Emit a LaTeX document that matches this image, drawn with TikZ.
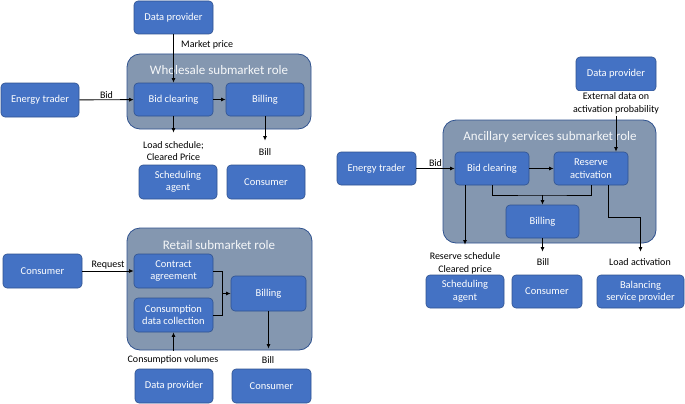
\documentclass[tikz,border=0pt]{standalone}
\usepackage{fontspec}
\setmainfont{Carlito}
\usetikzlibrary{arrows.meta}
\definecolor{boxfill}{HTML}{4472C4}
\definecolor{boxline}{HTML}{2F528F}
\definecolor{grpfill}{HTML}{8497B0}
\tikzset{
  box/.style={draw=boxline, line width=0.6pt, fill=boxfill, rounded corners=4pt,
    text=white, font=\fontsize{10.5}{12.5}\selectfont, align=center, inner sep=1pt},
  grp/.style={draw=boxline, line width=0.8pt, fill=grpfill, rounded corners=13pt},
  grptitle/.style={text=white!92!grpfill, font=\fontsize{13}{15}\selectfont},
  lbl/.style={font=\fontsize{10}{12.5}\selectfont, align=center, inner sep=1pt},
  arr/.style={line width=0.9pt, -{Latex[length=4.5pt,width=4pt]}},
  ln/.style={line width=0.9pt}
}
\begin{document}
\begin{tikzpicture}[x=1pt,y=-1pt]
\useasboundingbox (0,0) rectangle (685,404);
% ---------- containers ----------
\draw[grp] (127,54) rectangle (311,129);
\node[grptitle] (tW) at (219,70) {Wholesale submarket role};
\draw[grp] (443,120) rectangle (656,243);
\node[grptitle] (tA) at (550,137) {Ancillary services submarket role};
\draw[grp] (127,228) rectangle (312,350);
\node[grptitle] (tR) at (219,245) {Retail submarket role};
% ---------- wholesale ----------
\node[box, minimum width=79, minimum height=33] (dpW) at (173.5,17.5) {Data provider};
\node[box, minimum width=78, minimum height=34] (etW) at (40,100) {Energy trader};
\node[box, minimum width=79, minimum height=33] (bcW) at (173.5,99.5) {Bid clearing};
\node[box, minimum width=78, minimum height=33] (blW) at (265,99.5) {Billing};
\node[box, minimum width=78, minimum height=34] (saW) at (178,182) {Scheduling\\agent};
\node[box, minimum width=78, minimum height=34] (coW) at (266,182) {Consumer};
\draw[arr] (etW) -- node[lbl, above] (bidW) {Bid} (bcW);
\draw[arr] (bcW) -- (blW);
\draw[arr] (dpW) -- (bcW);
\node[lbl, anchor=west] (mpW) at (180,45) {Market price};
\draw[arr, shorten >=32pt] (bcW.south) -- (bcW.south |- saW.north);
\node[lbl] (lsW) at (173.5,151) {Load schedule;\\Cleared Price};
\draw[arr, shorten >=24pt] (blW.south) -- (blW.south |- coW.north);
\node[lbl] (billW) at (265,152) {Bill};
% ---------- ancillary ----------
\node[box, minimum width=80, minimum height=34] (dpA) at (616,74) {Data provider};
\node[box, minimum width=79, minimum height=33] (etA) at (376.5,168.5) {Energy trader};
\node[box, minimum width=74, minimum height=33] (bcA) at (492,168.5) {Bid clearing};
\node[box, minimum width=74, minimum height=33] (raA) at (591,168.5) {Reserve\\activation};
\node[box, minimum width=73, minimum height=33] (biA) at (542.5,221.5) {Billing};
\node[box, minimum width=78, minimum height=33] (saA) at (465,291.5) {Scheduling\\agent};
\node[box, minimum width=70, minimum height=33] (coA) at (547,291.5) {Consumer};
\node[box, minimum width=87, minimum height=33] (bsA) at (640.5,291.5) {Balancing\\service provider};
\draw[arr] (etA) -- node[lbl, above] (bidA) {Bid} (bcA);
\draw[arr] (bcA) -- (raA);
\draw[arr] (dpA.south) -- (dpA.south |- raA.north);
\node[lbl, fill=white, inner sep=2pt] (edA) at (616,103.5) {External data on\\activation probability};
\coordinate (jA) at (542.5,195);
\draw[ln] (bcA.south) |- (jA) -| (raA.south);
\draw[arr] (jA) -- (biA);
\draw[arr, shorten >=30pt] (saA.north |- bcA.south) -- (saA.north);
\node[lbl] (rsA) at (465,263.5) {Reserve schedule\\Cleared price};
\draw[arr, shorten >=23pt] (biA.south) -- (biA.south |- coA.north);
\node[lbl] (billA) at (543,262) {Bill};
\draw[arr, shorten >=23pt] ([xshift=17pt]raA.south) -- ++(0,32) -| (bsA.north);
\node[lbl] (laA) at (640,262) {Load activation};
% ---------- retail ----------
\node[box, minimum width=79, minimum height=34] (coRL) at (42.5,271) {Consumer};
\node[box, minimum width=79, minimum height=34] (caR) at (173.5,271) {Contract\\agreement};
\node[box, minimum width=79, minimum height=34] (cdR) at (173.5,315) {Consumption\\data collection};
\node[box, minimum width=75, minimum height=35] (biR) at (268.5,293.5) {Billing};
\node[box, minimum width=78, minimum height=34] (dpR) at (174,386) {Data provider};
\node[box, minimum width=79, minimum height=34] (coRB) at (271.5,386) {Consumer};
\draw[arr] (coRL) -- node[lbl, above] (reqR) {Request} (caR);
\coordinate (jR) at (222,293.5);
\draw[ln] (caR.east) -| (jR);
\draw[ln] (cdR.east) -| (jR);
\draw[arr] (jR) -- (biR.west);
\draw[arr, shorten <=18pt] (cdR.south |- dpR.north) -- (cdR.south);
\node[lbl] (cvR) at (173,360) {Consumption volumes};
\draw[arr, shorten >=20pt] (biR.south) -- (biR.south |- coRB.north);
\node[lbl] (billR) at (268,360) {Bill};
\end{tikzpicture}
\end{document}
